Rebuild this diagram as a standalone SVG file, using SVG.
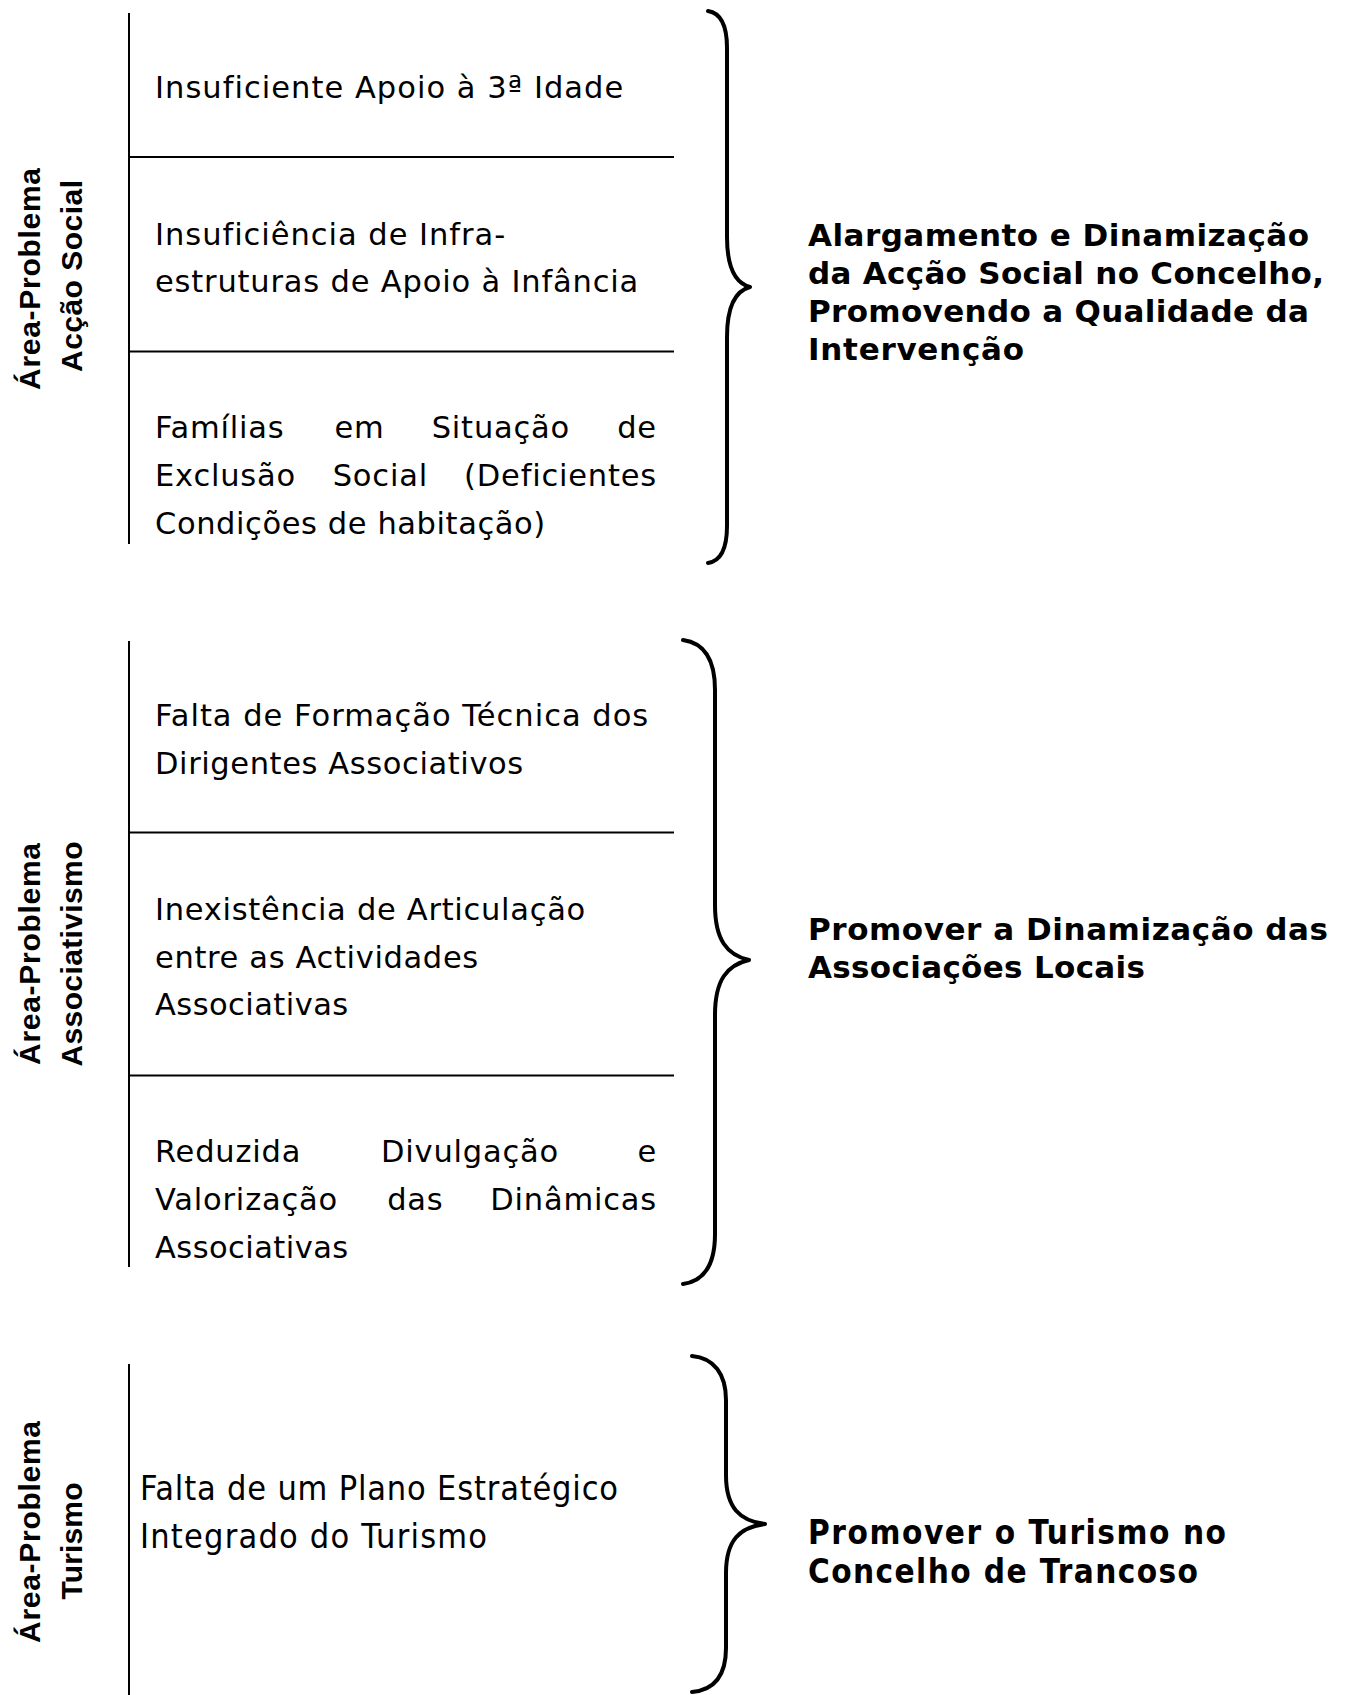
<svg xmlns="http://www.w3.org/2000/svg" width="1346" height="1695" viewBox="0 0 1346 1695">
<style>
.bg{fill:#fff}
.rule{stroke:#000;stroke-width:2;fill:none}
.brace{stroke:#000;stroke-width:4;fill:none;stroke-linecap:round;stroke-linejoin:round}
.body{font-family:"DejaVu Sans",Verdana,sans-serif;font-size:30.5px;letter-spacing:0.8px;fill:#000}
.bodyc{font-family:"DejaVu Sans Condensed","DejaVu Sans",sans-serif;font-stretch:condensed;font-size:34px;fill:#000}
.goal{font-family:"DejaVu Sans",Verdana,sans-serif;font-weight:bold;font-size:31px;fill:#000}
.goalc{font-family:"DejaVu Sans Condensed","DejaVu Sans",sans-serif;font-stretch:condensed;font-weight:bold;font-size:33px;fill:#000}
.lab{font-family:"Liberation Sans",Arial,sans-serif;font-weight:bold;font-size:30px;text-anchor:middle;fill:#000}
</style>
<rect class="bg" x="0" y="0" width="1346" height="1695"/>

<g id="frame-accao-social">
  <line class="rule" x1="129" y1="13" x2="129" y2="544"/>
  <line class="rule" x1="129" y1="157" x2="674" y2="157"/>
  <line class="rule" x1="129" y1="351.5" x2="674" y2="351.5"/>
</g>
<g id="frame-associativismo">
  <line class="rule" x1="129" y1="641" x2="129" y2="1267"/>
  <line class="rule" x1="129" y1="832.5" x2="674" y2="832.5"/>
  <line class="rule" x1="129" y1="1075.5" x2="674" y2="1075.5"/>
</g>
<g id="frame-turismo">
  <line class="rule" x1="129" y1="1364" x2="129" y2="1695"/>
</g>

<g id="label-accao-social">
  <text class="lab" transform="translate(40,279) rotate(-90)" textLength="222" lengthAdjust="spacing">Área-Problema</text>
  <text class="lab" transform="translate(82,276) rotate(-90)" textLength="192" lengthAdjust="spacing">Acção Social</text>
</g>
<g id="label-associativismo">
  <text class="lab" transform="translate(40,954) rotate(-90)" textLength="222" lengthAdjust="spacing">Área-Problema</text>
  <text class="lab" transform="translate(82,954) rotate(-90)" textLength="225" lengthAdjust="spacing">Associativismo</text>
</g>
<g id="label-turismo">
  <text class="lab" transform="translate(40,1532) rotate(-90)" textLength="222" lengthAdjust="spacing">Área-Problema</text>
  <text class="lab" transform="translate(82,1541) rotate(-90)" textLength="117" lengthAdjust="spacing">Turismo</text>
</g>

<g id="problem-apoio-3-idade">
  <text class="body" x="155" y="98" textLength="469" lengthAdjust="spacing">Insuficiente Apoio à 3ª Idade</text>
</g>
<g id="problem-infancia">
  <text class="body" x="155" y="245" textLength="351" lengthAdjust="spacing">Insuficiência de Infra-</text>
  <text class="body" x="155" y="292" textLength="484" lengthAdjust="spacing">estruturas de Apoio à Infância</text>
</g>
<g id="problem-exclusao">
  <text class="body" y="438"><tspan x="155">Famílias</tspan><tspan x="334.5">em</tspan><tspan x="431.7">Situação</tspan><tspan x="617.2">de</tspan></text>
  <text class="body" y="486"><tspan x="155">Exclusão</tspan><tspan x="332.7">Social</tspan><tspan x="464.1">(Deficientes</tspan></text>
  <text class="body" x="155" y="534" textLength="391" lengthAdjust="spacing">Condições de habitação)</text>
</g>

<g id="problem-formacao">
  <text class="body" x="155" y="726" textLength="494" lengthAdjust="spacing">Falta de Formação Técnica dos</text>
  <text class="body" x="155" y="774" textLength="369" lengthAdjust="spacing">Dirigentes Associativos</text>
</g>
<g id="problem-articulacao">
  <text class="body" x="155" y="920" textLength="431" lengthAdjust="spacing">Inexistência de Articulação</text>
  <text class="body" x="155" y="968" textLength="324" lengthAdjust="spacing">entre as Actividades</text>
  <text class="body" x="155" y="1015" textLength="194" lengthAdjust="spacing">Associativas</text>
</g>
<g id="problem-divulgacao">
  <text class="body" y="1162"><tspan x="155">Reduzida</tspan><tspan x="381">Divulgação</tspan><tspan x="637.4">e</tspan></text>
  <text class="body" y="1210"><tspan x="155">Valorização</tspan><tspan x="387.2">das</tspan><tspan x="490.3">Dinâmicas</tspan></text>
  <text class="body" x="155" y="1258" textLength="194" lengthAdjust="spacing">Associativas</text>
</g>

<g id="problem-plano-turismo">
  <text class="bodyc" x="140" y="1500" textLength="478" lengthAdjust="spacing">Falta de um Plano Estratégico</text>
  <text class="bodyc" x="140" y="1548" textLength="347" lengthAdjust="spacing">Integrado do Turismo</text>
</g>

<g id="goal-accao-social">
  <text class="goal" x="808" y="246" textLength="501" lengthAdjust="spacing">Alargamento e Dinamização</text>
  <text class="goal" x="808" y="284" textLength="516" lengthAdjust="spacing">da Acção Social no Concelho,</text>
  <text class="goal" x="808" y="322" textLength="501" lengthAdjust="spacing">Promovendo a Qualidade da</text>
  <text class="goal" x="808" y="360" textLength="216" lengthAdjust="spacing">Intervenção</text>
</g>
<g id="goal-associativismo">
  <text class="goal" x="808" y="940" textLength="520" lengthAdjust="spacing">Promover a Dinamização das</text>
  <text class="goal" x="808" y="978" textLength="337" lengthAdjust="spacing">Associações Locais</text>
</g>
<g id="goal-turismo">
  <text class="goalc" x="808" y="1544" textLength="418" lengthAdjust="spacing">Promover o Turismo no</text>
  <text class="goalc" x="808" y="1583" textLength="390" lengthAdjust="spacing">Concelho de Trancoso</text>
</g>

<g id="connectors">
  <path class="brace" d="M708,11 C721,13 727,26 727,48 L727,237 C727,268 735,283 750,287 C735,291 727,306 727,337 L727,526 C727,548 721,561 708,563"/>
  <path class="brace" d="M683,640 C705,643 715,660 715,690 L715,905 C715,940 727,955 749,960 C727,965 715,980 715,1015 L715,1234 C715,1264 705,1281 683,1284"/>
  <path class="brace" d="M692,1356 C714,1358 726,1374 726,1400 L726,1475 C726,1508 740,1521 765,1524 C740,1527 726,1540 726,1573 L726,1648 C726,1676 714,1690 692,1692"/>
</g>
</svg>
